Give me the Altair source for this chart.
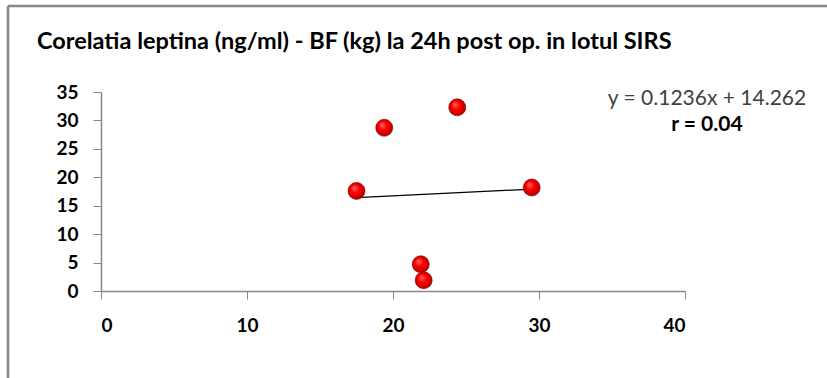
import altair as alt
import pandas as pd

# data
bf_kg = [17.5, 19.4, 24.4, 29.5, 21.9, 22.1]
leptina = [17.6, 28.7, 32.3, 18.2, 4.7, 1.9]
slope = 0.1236
intercept = 14.262
x_ticks = [0, 10, 20, 30, 40]
y_ticks = [0, 5, 10, 15, 20, 25, 30, 35]
title_text = "Corelatia leptina (ng/ml) - BF (kg) la 24h post op. in lotul SIRS"
eq_text = "y = 0.1236x + 14.262"
r_text = "r = 0.04"

pts = pd.DataFrame({"x": bf_kg, "y": leptina})
xmin, xmax = min(bf_kg), max(bf_kg)
trend = pd.DataFrame({"x": [xmin, xmax],
                      "y": [slope * xmin + intercept, slope * xmax + intercept]})

FONT = "Lato"
W, H = 584, 199
PL, PT = 101, 92

xs = alt.X("x:Q", scale=alt.Scale(domain=[0, 40], nice=False),
           axis=alt.Axis(values=x_ticks, title=None, grid=False, domainColor="#888888",
                         tickColor="#888888", tickSize=8, labelPadding=17,
                         labelFont=FONT, labelFontSize=19, labelFontWeight="bold",
                         labelColor="#000000", domainWidth=1.5, labelOverlap=False))
ys = alt.Y("y:Q", scale=alt.Scale(domain=[0, 35], nice=False),
           axis=alt.Axis(values=y_ticks, title=None, grid=False, domainColor="#888888",
                         tickColor="#888888", tickSize=8, labelPadding=15,
                         labelFont=FONT, labelFontSize=19, labelFontWeight="bold",
                         labelColor="#000000", domainWidth=1.5, labelOverlap=False))

line = alt.Chart(trend).mark_line(color="#000000", strokeWidth=1.3).encode(x=xs, y=ys)

grad = alt.Gradient(gradient="radial", x1=0.35, y1=0.3, r1=0.0, x2=0.5, y2=0.5, r2=0.55,
                    stops=[alt.GradientStop(offset=0, color="#ff7070"),
                           alt.GradientStop(offset=0.45, color="#ff0000"),
                           alt.GradientStop(offset=0.85, color="#c00000"),
                           alt.GradientStop(offset=1, color="#700000")])
points = alt.Chart(pts).mark_point(filled=True, fill=grad, size=290, opacity=1,
                                   stroke="#8b0000", strokeWidth=0.6).encode(x=xs, y=ys)

annot = pd.DataFrame({"t": [title_text]})
title = alt.Chart(annot).mark_text(font=FONT, fontSize=23.5, fontWeight="bold", align="left",
                                   baseline="middle", color="#000000").encode(
    text="t:N", x=alt.value(37 - PL), y=alt.value(42 - PT))

eq = alt.Chart(pd.DataFrame({"t": [eq_text]})).mark_text(
    font=FONT, fontSize=21, align="center", baseline="middle", color="#404040").encode(
    text="t:N", x=alt.value(707 - PL), y=alt.value(99 - PT))
rr = alt.Chart(pd.DataFrame({"t": [r_text]})).mark_text(
    font=FONT, fontSize=21, fontWeight="bold", align="center", baseline="middle",
    color="#000000").encode(text="t:N", x=alt.value(707 - PL), y=alt.value(125 - PT))

frame_top = alt.Chart(annot).mark_rule(color="#888888", strokeWidth=2.5).encode(
    x=alt.value(8 - PL), x2=alt.value(827 - PL), y=alt.value(6 - PT))
frame_left = alt.Chart(annot).mark_rule(color="#888888", strokeWidth=2.5).encode(
    x=alt.value(8 - PL), y=alt.value(6 - PT), y2=alt.value(378 - PT))

chart = alt.layer(frame_top, frame_left, title, eq, rr, line, points).properties(
    width=W, height=H,
    autosize=alt.AutoSizeParams(type="none"),
    padding={"left": PL, "top": PT, "right": 827 - PL - W, "bottom": 378 - PT - H},
    background="white",
).configure_view(stroke=None)

chart.save("out.html", embed_options={"renderer": "svg", "actions": False})
